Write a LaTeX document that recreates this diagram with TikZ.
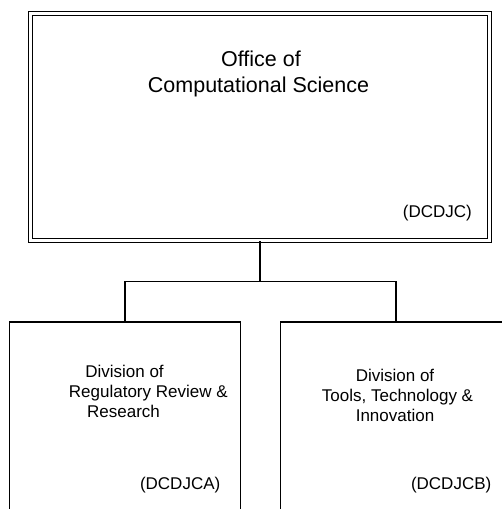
\documentclass[tikz,border=0pt]{standalone}
\usepackage{fontspec}
\setmainfont{Liberation Sans}
\begin{document}
\begin{tikzpicture}[x=1pt,y=-1pt,
  topbox/.style={draw=black, double=white, double distance=2.4pt, line width=1.5pt, inner sep=0pt, minimum width=458.7pt, minimum height=226.7pt},
  unitbox/.style={draw=black, line width=1.5pt, inner sep=0pt, minimum width=231pt, minimum height=300pt, anchor=north},
  ttl/.style={inner sep=0pt, anchor=base, font=\fontsize{21.5}{26}\selectfont},
  lbl/.style={inner sep=0pt, anchor=base, font=\fontsize{17}{20}\selectfont},
  code/.style={inner sep=0pt, anchor=base east, font=\fontsize{17}{20}\selectfont},
  conn/.style={draw=black, line width=1.5pt}]
\useasboundingbox (0,0) rectangle (502,509);
\clip (0,0) rectangle (502,509);
\fill[white] (0,0) rectangle (502,509);
% boxes
\node[topbox] (top) at (260,127) {};
\node[unitbox] (lbox) at (125,321) {};
\node[unitbox] (rbox) at (396,321) {};
% connectors
\coordinate (bus) at (260,281.5);
\draw[conn] (top.south) -- (bus);
\draw[conn] (lbox.north) |- (bus) -| (rbox.north);
% texts
\node[ttl] (t1) at (261,66) {Office of};
\node[ttl] (t2) at (258.5,92) {Computational Science};
\node[code] (c0) at (472,217) {(DCDJC)};
\node[lbl] (l1) at (124.5,377) {Division of};
\node[lbl] (l2) at (148.3,397.5) {Regulatory Review \&};
\node[lbl] (l3) at (123.5,417.5) {Research};
\node[code] (c1) at (220.5,489) {(DCDJCA)};
\node[lbl] (r1) at (395,381.7) {Division of};
\node[lbl] (r2) at (397.5,401.7) {Tools, Technology \&};
\node[lbl] (r3) at (395,421.7) {Innovation};
\node[code] (c2) at (491.5,489) {(DCDJCB)};
\end{tikzpicture}
\end{document}
